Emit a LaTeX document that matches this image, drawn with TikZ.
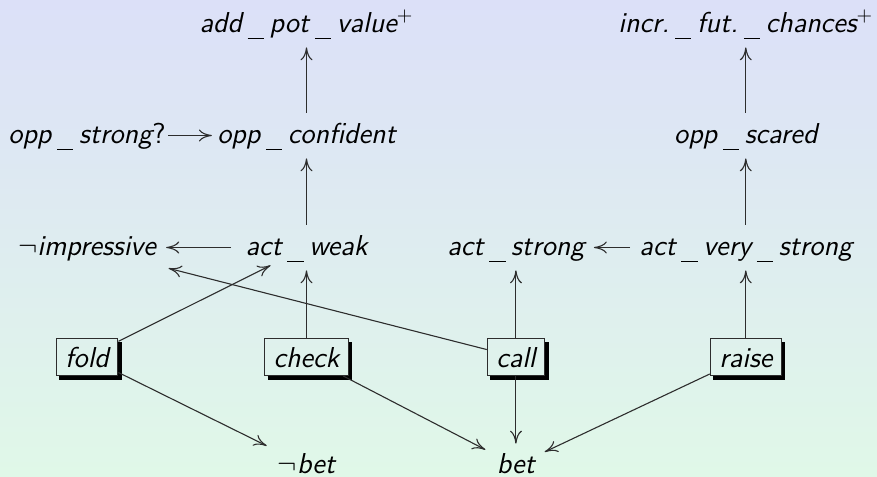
\documentclass[tikz,border=0pt]{standalone}
\usepackage{tikz}
\usetikzlibrary{matrix,arrows.meta,backgrounds}

\definecolor{slidetop}{RGB}{220,224,248}
\definecolor{slidebottom}{RGB}{224,248,232}
\definecolor{edgegray}{RGB}{45,45,45}
\newcommand{\usc}{\hspace{2.8pt}\rule[-3.4pt]{8.2pt}{0.55pt}\hspace{2.8pt}}

\tikzset{
    action/.style={draw=edgegray,line width=0.5pt,text depth=0pt,inner xsep=4.5pt,inner ysep=4pt},
    link/.style={draw=edgegray,line width=0.55pt,-{To[length=6.5pt,width=6pt]},
                 shorten <=4.5pt,shorten >=4.5pt},
    from box/.style={shorten <=0pt},
}

\begin{document}
\begin{tikzpicture}
    \matrix (m) [matrix of nodes,
                 nodes={anchor=base,inner sep=0pt,text height=10.5pt,text depth=3pt,
                        font=\fontsize{14.4pt}{17pt}\selectfont\sffamily\itshape},
                 row sep=42pt,column sep=17pt]
    {
                                &   add\usc pot\usc value$^+$   &                   &   incr.\usc fut.\usc chances$^+$  \\
        opp\usc strong{\upshape ?} &   opp\usc confident        &                   &   opp\usc scared                  \\[0.5pt]
        $\neg$impressive        &   act\usc weak                &   act\usc strong  &   act\usc very\usc strong         \\[-3.5pt]
        |[action]|fold          &   |[action]|check             &   |[action]|call  &   |[action]|raise                 \\[-4pt]
                                &   $\neg$bet                   &   bet             &                                   \\
    };

    % shadows under the four action boxes
    \foreach \c in {1,...,4}
        \draw[black,line width=1.8pt] ([shift={(1.8pt,-0.9pt)}]m-4-\c.south west) -| ([shift={(0.9pt,-1.8pt)}]m-4-\c.north east);

    % upper part
    \draw[link] (m-2-2) -- (m-1-2);
    \draw[link,shorten <=1pt,shorten >=2.5pt] (m-2-1) -- (m-2-2);
    \draw[link] (m-3-2) -- (m-2-2);
    \draw[link,shorten <=7pt,shorten >=5pt] (m-3-2) -- (m-3-1);
    \draw[link] (m-2-4) -- (m-1-4);
    \draw[link] (m-3-4) -- (m-2-4);
    \draw[link] (m-3-4) -- (m-3-3);

    % actions
    \draw[link,from box] (m-4-1) -- (m-3-2);
    \draw[link,from box] (m-4-2) -- (m-3-2);
    \draw[link,from box,shorten >=14pt] (m-4-3) -- (m-3-1);
    \draw[link,from box] (m-4-3) -- (m-3-3);
    \draw[link,from box] (m-4-4) -- (m-3-4);
    \draw[link,from box,shorten >=6.5pt] (m-4-1) -- (m-5-2);
    \draw[link,from box,shorten >=6.3pt] (m-4-2) -- (m-5-3);
    \draw[link,from box,shorten >=4pt] (m-4-3) -- (m-5-3);
    \draw[link,from box,shorten >=5.2pt] (m-4-4) -- (m-5-3);

    % slide background
    \coordinate (bgnw) at ([shift={(-153.25pt,127.5pt)}]m-3-2.base);
    \coordinate (bgse) at ([shift={(285.25pt,-110.5pt)}]m-3-2.base);
    \begin{scope}[on background layer]
        \shade[top color=slidetop,bottom color=slidebottom] (bgnw) rectangle (bgse);
    \end{scope}
    \pgfresetboundingbox
    \path[use as bounding box] (bgnw) rectangle (bgse);
\end{tikzpicture}
\end{document}
